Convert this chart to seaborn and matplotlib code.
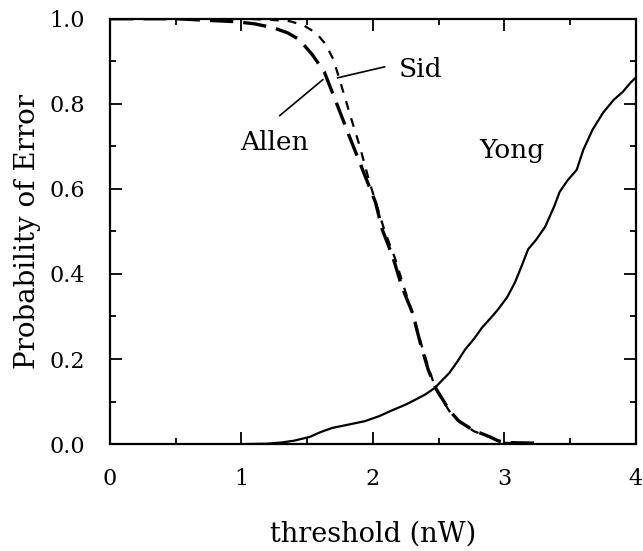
import numpy as np
import pandas as pd
import matplotlib
matplotlib.use('Agg')
import matplotlib.pyplot as plt
from matplotlib.ticker import MultipleLocator, FormatStrFormatter
import seaborn as sns

# values
allen_x = [0, 0.5, 0.96, 1.1, 1.24, 1.35, 1.44, 1.54, 1.63, 1.72, 1.82, 1.92, 2.02, 2.07,
           2.15, 2.22, 2.30, 2.36, 2.42, 2.48, 2.58, 2.65, 2.76, 2.89, 2.95, 3.0, 3.1, 3.3]
allen_y = [1.0, 1.0, 0.993, 0.988, 0.979, 0.967, 0.951, 0.915, 0.875, 0.804, 0.724, 0.646,
           0.568, 0.505, 0.441, 0.370, 0.309, 0.238, 0.175, 0.130, 0.080, 0.055, 0.033,
           0.017, 0.008, 0.004, 0.003, 0.002]

sid_x = [0, 0.5, 1.0, 1.2, 1.37, 1.47, 1.57, 1.64, 1.70, 1.76, 1.83, 1.90, 1.97, 2.04,
         2.09, 2.17, 2.24, 2.31, 2.37, 2.43, 2.48, 2.58, 2.66, 2.77, 2.90, 2.96, 3.0, 3.1]
sid_y = [1.0, 1.0, 1.0, 0.998, 0.994, 0.985, 0.966, 0.94, 0.904, 0.843, 0.770, 0.70, 0.62,
         0.55, 0.50, 0.435, 0.365, 0.30, 0.232, 0.172, 0.128, 0.078, 0.052, 0.030, 0.015,
         0.007, 0.003, 0.002]

yong_x = [0, 0.5, 1.0, 1.2, 1.31, 1.4, 1.52, 1.6, 1.69, 1.8, 1.94, 2.05, 2.15, 2.25, 2.32,
          2.40, 2.47, 2.52, 2.58, 2.64, 2.70, 2.77, 2.83, 2.90, 2.95, 3.02, 3.08, 3.13,
          3.18, 3.24, 3.31, 3.38, 3.42, 3.48, 3.55, 3.60, 3.67, 3.75, 3.83, 3.90, 3.96, 4.0]
yong_y = [0, 0, 0, 0.001, 0.004, 0.008, 0.017, 0.028, 0.038, 0.045, 0.054, 0.066, 0.080,
          0.093, 0.104, 0.117, 0.132, 0.148, 0.167, 0.193, 0.222, 0.248, 0.274, 0.298,
          0.316, 0.345, 0.380, 0.418, 0.458, 0.480, 0.511, 0.560, 0.593, 0.620, 0.645,
          0.692, 0.739, 0.779, 0.809, 0.828, 0.850, 0.862]

sns.set_style('ticks')
plt.rcParams['font.family'] = ['DejaVu Serif']
plt.rcParams['text.color'] = 'black'
plt.rcParams['axes.labelcolor'] = 'black'

fig = plt.figure(figsize=(6.43, 5.51), dpi=100)
ax = fig.add_axes([0.171, 0.194, 0.818, 0.772])

sns.lineplot(x=yong_x, y=yong_y, ax=ax, color='black', lw=1.6, estimator=None, sort=False)
sns.lineplot(x=allen_x, y=allen_y, ax=ax, color='black', lw=2.4, estimator=None, sort=False,
             linestyle=(0, (7, 3)))
sns.lineplot(x=sid_x, y=sid_y, ax=ax, color='black', lw=1.6, estimator=None, sort=False,
             linestyle=(0, (4, 4)))

# labels with leader lines
ax.text(2.36, 0.88, 'Sid', fontsize=19, ha='center', va='center', color='black')
ax.plot([2.09, 1.73], [0.887, 0.861], color='black', lw=1.2)
ax.text(1.25, 0.71, 'Allen', fontsize=19, ha='center', va='center', color='black')
ax.plot([1.29, 1.62], [0.772, 0.857], color='black', lw=1.2)
ax.text(3.06, 0.69, 'Yong', fontsize=19, ha='center', va='center', color='black')

ax.set_xlim(0, 4)
ax.set_ylim(0, 1)
ax.xaxis.set_major_locator(MultipleLocator(1))
ax.xaxis.set_minor_locator(MultipleLocator(0.5))
ax.yaxis.set_major_locator(MultipleLocator(0.2))
ax.yaxis.set_minor_locator(MultipleLocator(0.1))
ax.yaxis.set_major_formatter(FormatStrFormatter('%.1f'))

ax.tick_params(which='both', direction='in', top=True, right=True, width=1.3,
               labelsize=16, colors='black')
ax.tick_params(which='major', length=8.5)
ax.tick_params(which='minor', length=4)
ax.tick_params(axis='x', which='major', pad=17)
ax.tick_params(axis='y', which='major', pad=18)
for s in ax.spines.values():
    s.set_visible(True)
    s.set_linewidth(1.6)
    s.set_color('black')

ax.set_xlabel('threshold (nW)', fontsize=19.5, labelpad=22, color='black')
ax.set_ylabel('Probability of Error', fontsize=20, labelpad=6, color='black')

fig.savefig('out.png', dpi=100)
